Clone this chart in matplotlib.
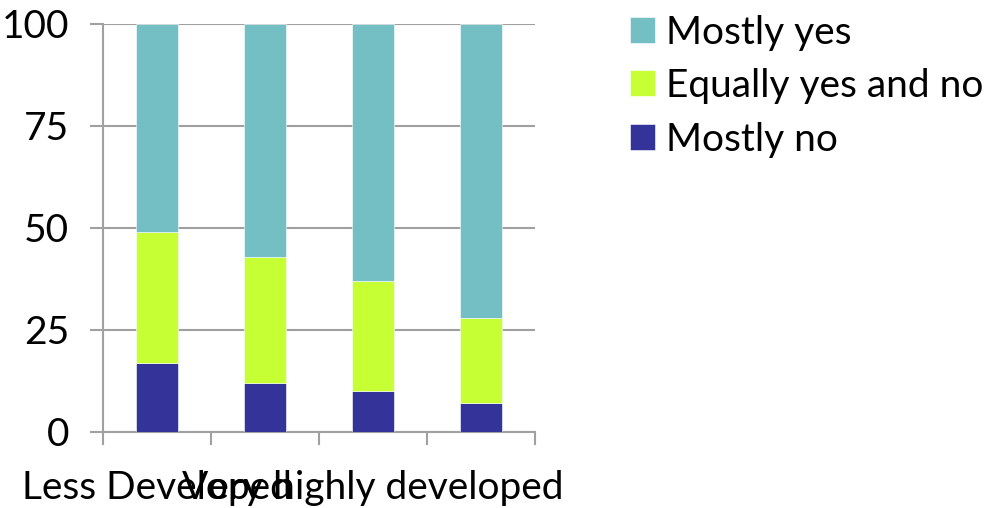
import matplotlib
matplotlib.use("Agg")
import matplotlib.pyplot as plt
import numpy as np

plt.rcParams['font.family'] = ['Lato', 'DejaVu Sans']

# Survey shares (%) per development group
tick_labels = ["Less Developed", "", "Very highly developed", ""]
series_names = ["Mostly no", "Equally yes and no", "Mostly yes"]
mostly_no = [17, 12, 10, 7]
equally = [32, 31, 27, 21]
mostly_yes = [51, 57, 63, 72]
colors = ["#333399", "#C6FF33", "#73BFC4"]
y_ticks = [0, 25, 50, 75, 100]

FS = 28

fig = plt.figure(figsize=(9.87, 5.08), dpi=100)
ax = fig.add_axes([103 / 987, 76 / 508, 432 / 987, 408 / 508])

x = np.arange(len(tick_labels))
bottom = np.zeros(len(x))
handles = []
for name, vals, col in zip(series_names, [mostly_no, equally, mostly_yes], colors):
    b = ax.bar(x, vals, width=0.395, bottom=bottom, color=col, label=name,
               edgecolor="white", linewidth=0.4, zorder=3)
    handles.append(b)
    bottom += np.array(vals)

ax.set_xlim(-0.5, len(x) - 0.5)
ax.set_ylim(0, 100)
ax.set_yticks(y_ticks)
ax.set_yticklabels([str(v) for v in y_ticks], fontsize=FS)
ax.yaxis.grid(True, color="#A0A0A0", linewidth=1.5, zorder=0)
ax.tick_params(axis="y", length=9.5, width=1.5, color="#A0A0A0", pad=15)

# category boundaries as major ticks, labels on minor ticks at bar centres
ax.set_xticks(np.arange(-0.5, len(x), 1.0))
ax.set_xticklabels([])
ax.set_xticks(x, minor=True)
ax.set_xticklabels(tick_labels, minor=True, fontsize=FS)
ax.tick_params(axis="x", which="major", length=9, width=1.5, color="#A0A0A0", direction="out")
ax.tick_params(axis="x", which="minor", length=0, pad=27)

for side in ["top", "right"]:
    ax.spines[side].set_visible(False)
for side in ["left", "bottom"]:
    ax.spines[side].set_color("#A0A0A0")
    ax.spines[side].set_linewidth(1.5)

fig.legend(handles[::-1], series_names[::-1], loc="upper left",
           bbox_to_anchor=(614 / 987, 1 + 1 / 508), frameon=False, fontsize=FS,
           handlelength=0.65, handleheight=0.65, handletextpad=0.3,
           labelspacing=0.45, borderaxespad=0)

fig.savefig("out.png", dpi=100)
